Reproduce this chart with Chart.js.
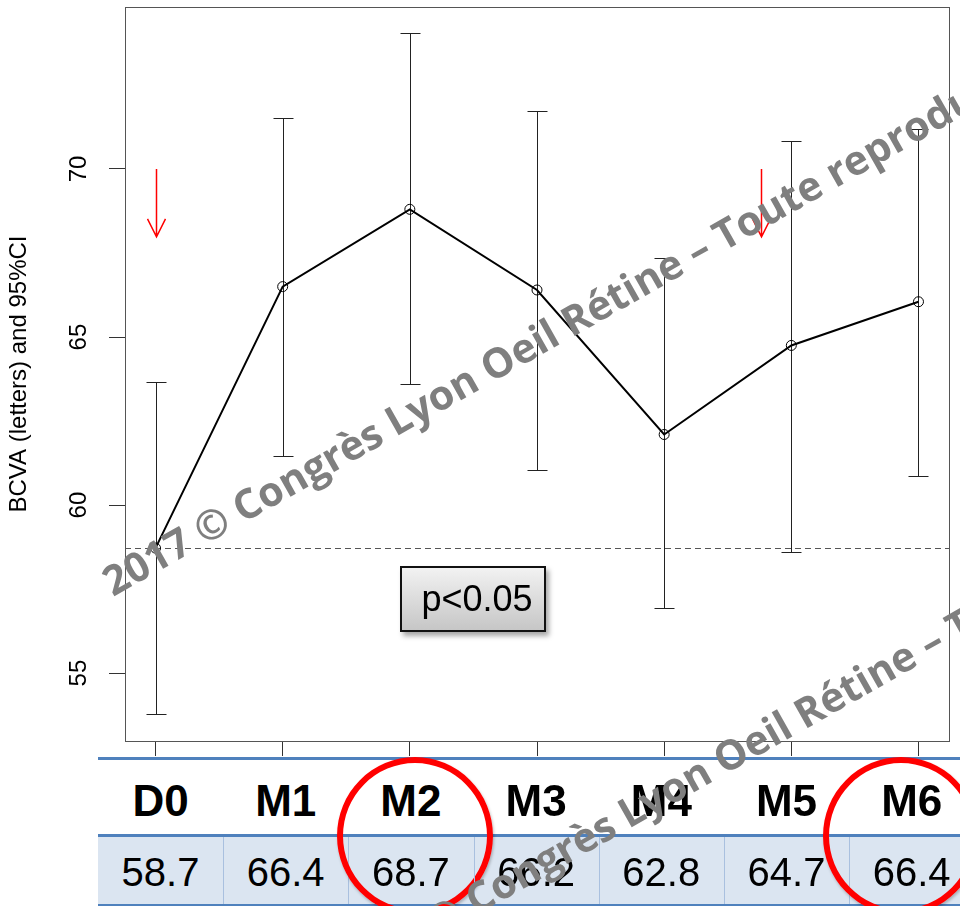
<html>
<head>
  <title>BCVA</title>
  <script src="https://cdn.jsdelivr.net/npm/chart.js@4.4.0/dist/chart.umd.min.js"></script>
  <style>
  body { margin: 0; width: 960px; height: 906px; overflow: hidden; position: relative; background: white; font-family: 'Liberation Sans', Arial, sans-serif; }
  #plot { position: absolute; left: 0; top: 0; }
  .line { position: absolute; left: 98px; width: 880px; background: #4f81bd; }
  .cell { position: absolute; width: 125px; text-align: center; color: black; }
  .head { font-weight: bold; font-size: 44px; top: 775px; line-height: 52px; }
  .val { font-size: 40px; top: 848px; line-height: 48px; }
  .sep { position: absolute; top: 837px; height: 67px; width: 1px; background: #a9c0df; }
  .ring { position: absolute; width: 156px; height: 158px; box-sizing: border-box; border: 6px solid #f00; border-radius: 50%; box-shadow: 1px 2px 3px rgba(0,0,0,0.25); }
  #pbox { position: absolute; left: 400px; top: 566px; width: 146px; height: 66px; box-sizing: border-box;
          border: 2px solid #111; background: linear-gradient(#f2f2f2, #c6c6c6);
          box-shadow: 3px 4px 5px rgba(0,0,0,0.35); font-size: 36px; line-height: 62px; text-align: center; padding-left: 8px; }
  .wm { position: absolute; white-space: nowrap; font-family: 'Open Sans', sans-serif; font-weight: bold; font-size: 41px;
        line-height: 41px; color: #7f7f7f; transform-origin: 0 36px; transform: rotate(-29.5deg); }
  </style>
</head>
<body>
  <canvas id="plot" width="960" height="760"></canvas>
  <div id="table"></div>
  <div id="pbox">p&lt;0.05</div>

  <script>
    // values
    var categories = ['D0', 'M1', 'M2', 'M3', 'M4', 'M5', 'M6'];
    var meanVals = [58.72, 66.5, 68.8, 66.4, 62.1, 64.75, 66.05];
    var ciLower = [53.78, 61.46, 63.6, 61.04, 56.93, 58.6, 60.86];
    var ciUpper = [63.66, 71.52, 74.05, 71.73, 67.35, 70.82, 71.2];
    var tableVals = ['58.7', '66.4', '68.7', '66.2', '62.8', '64.7', '66.4'];
    var yTicks = [55, 60, 65, 70];
    var refLine = 58.72;
    var arrowX = [0, 4.76];
    var arrowFrom = 70.0;
    var arrowTo = 67.98;
    var circled = ['M2', 'M6'];
    var watermark = '2017 \u00a9 Congr\u00e8s Lyon Oeil R\u00e9tine \u2013 Toute reproduction interdite';

    // R-style extras: error bars, reference line, arrows, box, rotated y labels
    var rPlot = {
      id: 'rPlot',
      beforeDatasetsDraw: function(chart) {
        var c = chart.ctx, xs = chart.scales.x, ys = chart.scales.y, a = chart.chartArea;
        c.save();
        // dashed line at baseline
        var yr = Math.round(ys.getPixelForValue(refLine)) + 0.5;
        c.strokeStyle = '#555';
        c.lineWidth = 1;
        c.setLineDash([6, 4]);
        c.beginPath(); c.moveTo(a.left, yr); c.lineTo(a.right, yr); c.stroke();
        c.setLineDash([]);
        // error bars
        c.strokeStyle = '#222';
        for (var i = 0; i < categories.length; i++) {
          var x = Math.round(xs.getPixelForValue(i)) + 0.5;
          var lo = Math.round(ys.getPixelForValue(ciLower[i])) + 0.5;
          var hi = Math.round(ys.getPixelForValue(ciUpper[i])) + 0.5;
          c.beginPath();
          c.moveTo(x, lo); c.lineTo(x, hi);
          c.moveTo(x - 10, lo); c.lineTo(x + 10, lo);
          c.moveTo(x - 10, hi); c.lineTo(x + 10, hi);
          c.stroke();
        }
        // red arrows
        c.strokeStyle = '#ff0000';
        c.lineWidth = 1.5;
        arrowX.forEach(function(v) {
          var x = Math.round(xs.getPixelForValue(v)) + 0.5;
          var y0 = ys.getPixelForValue(arrowFrom), y1 = ys.getPixelForValue(arrowTo);
          c.beginPath();
          c.moveTo(x, y0); c.lineTo(x, y1);
          c.moveTo(x - 9, y1 - 18); c.lineTo(x, y1); c.lineTo(x + 9, y1 - 18);
          c.stroke();
        });
        c.restore();
      },
      afterDraw: function(chart) {
        var c = chart.ctx, ys = chart.scales.y, a = chart.chartArea;
        c.save();
        c.strokeStyle = '#555';
        c.lineWidth = 1;
        c.strokeRect(Math.round(a.left) + 0.5, Math.round(a.top) + 0.5, Math.round(a.right - a.left), Math.round(a.bottom - a.top));
        c.fillStyle = '#000';
        c.font = '24px "Liberation Sans", Arial';
        c.textAlign = 'center';
        c.textBaseline = 'middle';
        yTicks.forEach(function(v) {
          c.save();
          c.translate(79, ys.getPixelForValue(v));
          c.rotate(-Math.PI / 2);
          c.fillText(String(v), 0, 0);
          c.restore();
        });
        c.restore();
      }
    };

    new Chart(document.getElementById('plot'), {
      type: 'line',
      data: {
        datasets: [{
          data: meanVals.map(function(v, i) { return {x: i, y: v}; }),
          borderColor: '#000',
          borderWidth: 2,
          pointRadius: 5,
          pointBorderWidth: 1,
          pointBorderColor: '#000',
          pointBackgroundColor: 'rgba(0,0,0,0)',
          tension: 0
        }]
      },
      options: {
        responsive: false,
        animation: false,
        layout: { padding: { top: 7, right: 11, left: 0, bottom: 0 } },
        plugins: { legend: { display: false }, tooltip: { enabled: false } },
        scales: {
          x: {
            type: 'linear', min: -0.24, max: 6.24,
            afterBuildTicks: function(s) { s.ticks = categories.map(function(c, i) { return {value: i}; }); },
            afterFit: function(s) { s.height = 19; },
            ticks: { display: false },
            grid: { drawOnChartArea: false, tickLength: 15, color: '#333' },
            border: { color: '#555' }
          },
          y: {
            type: 'linear', min: 52.98, max: 74.82,
            afterBuildTicks: function(s) { s.ticks = yTicks.map(function(v) { return {value: v}; }); },
            afterFit: function(s) { s.width = 125; },
            ticks: { display: false },
            grid: { drawOnChartArea: false, tickLength: 16, color: '#333' },
            border: { color: '#555' },
            title: { display: true, text: 'BCVA (letters) and 95%CI', color: '#000',
                     font: { size: 24, family: '"Liberation Sans", Arial' }, padding: { top: 5, bottom: 0 } }
          }
        }
      },
      plugins: [rPlot]
    });

    // table under the plot
    function buildTable() {
      var t = document.getElementById('table');
      var ringShift = { M2: 4, M6: -11 };
      var html = '';
      html += "<div class='line' style='top:757px;height:3px'></div>";
      html += "<div style='position:absolute;left:98px;top:837px;width:880px;height:67px;background:#dbe5f1'></div>";
      html += "<div class='line' style='top:834px;height:3px'></div>";
      html += "<div class='line' style='top:904px;height:2px'></div>";
      for (var i = 0; i < categories.length; i++) {
        var left = 98 + i * 125.2;
        if (i > 0) html += "<div class='sep' style='left:" + Math.round(left) + "px'></div>";
        html += "<div class='cell head' style='left:" + left + "px'>" + categories[i] + "</div>";
        html += "<div class='cell val' style='left:" + left + "px'>" + tableVals[i] + "</div>";
        if (circled.indexOf(categories[i]) >= 0) {
          var cx = left + 62.6 + ringShift[categories[i]];
          html += "<div class='ring' style='left:" + (cx - 78) + "px;top:757px'></div>";
        }
      }
      html += "<div class='wm' style='left:113px;top:561px'>" + watermark + "</div>";
      html += "<div class='wm' style='left:346px;top:953px'>" + watermark + "</div>";
      t.innerHTML = html;
    }
    buildTable();
  </script>
</body>
</html>
